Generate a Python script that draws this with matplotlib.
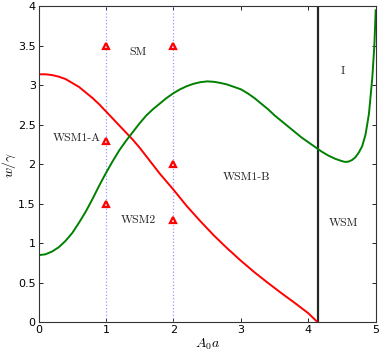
import numpy as np
import matplotlib
matplotlib.use('Agg')
import matplotlib.pyplot as plt

plt.rcParams['mathtext.fontset'] = 'cm'

# red boundary curve
red_x = [0.0, 0.1, 0.2, 0.3, 0.4, 0.5, 0.6, 0.7, 0.8, 0.9, 1.0, 1.1, 1.2, 1.3, 1.4, 1.5, 1.6, 1.7, 1.8, 1.9,
         2.0, 2.2, 2.4, 2.6, 2.8, 3.0, 3.2, 3.4, 3.6, 3.8, 4.0, 4.14]
red_y = [3.14, 3.14, 3.13, 3.11, 3.08, 3.03, 2.98, 2.91, 2.84, 2.76, 2.67, 2.58, 2.49, 2.40, 2.31, 2.21, 2.10, 1.99, 1.88, 1.78,
         1.68, 1.47, 1.28, 1.10, 0.935, 0.78, 0.635, 0.50, 0.37, 0.245, 0.115, 0.0]

# green boundary curve
green_x = [0.0, 0.1, 0.2, 0.3, 0.4, 0.5, 0.6, 0.7, 0.8, 0.9, 1.0, 1.1, 1.2, 1.3, 1.4, 1.5, 1.6, 1.7, 1.8, 1.9,
           2.0, 2.1, 2.2, 2.3, 2.4, 2.5, 2.6, 2.7, 2.8, 2.9, 3.0, 3.1, 3.2, 3.3, 3.4, 3.5, 3.6, 3.7, 3.8, 3.9,
           4.0, 4.1, 4.2, 4.3, 4.4, 4.5, 4.55, 4.6, 4.65, 4.7, 4.75, 4.8, 4.85, 4.9, 4.95, 4.98, 5.0]
green_y = [0.85, 0.86, 0.895, 0.95, 1.03, 1.13, 1.26, 1.40, 1.56, 1.73, 1.89, 2.04, 2.18, 2.30, 2.41, 2.52, 2.62, 2.70, 2.77, 2.84,
           2.90, 2.95, 2.99, 3.02, 3.04, 3.05, 3.045, 3.03, 3.01, 2.98, 2.95, 2.90, 2.84, 2.77, 2.70, 2.62, 2.55, 2.48, 2.41, 2.34,
           2.28, 2.22, 2.16, 2.11, 2.07, 2.04, 2.03, 2.035, 2.055, 2.09, 2.15, 2.23, 2.38, 2.64, 3.10, 3.50, 3.95]

# sample points (triangles)
pts_x = [1, 2, 1, 2, 1, 2]
pts_y = [3.5, 3.5, 2.3, 2.0, 1.5, 1.3]

x_crit = 4.14
dotted_x = [1, 2]

# region labels
labels = ['SM', 'WSM1-A', 'WSM1-B', 'WSM2', 'WSM', 'I']
label_x = [1.48, 0.57, 3.09, 1.48, 4.52, 4.51]
label_y = [3.42, 2.33, 1.84, 1.29, 1.26, 3.18]

fig = plt.figure(figsize=(3.82, 3.53), dpi=100)
ax = fig.add_axes([0.1008, 0.087, 0.8827, 0.895])

for xv in dotted_x:
    ax.axvline(xv, color='#9999ff', linestyle=':', linewidth=0.9)
ax.axvline(x_crit, color='#262626', linewidth=1.6)

ax.plot(red_x, red_y, color='red', linewidth=1.4)
ax.plot(green_x, green_y, color='green', linewidth=1.4)
ax.plot(pts_x, pts_y, linestyle='none', marker='^', markersize=5,
        markerfacecolor='none', markeredgecolor='red', markeredgewidth=1.6)

for t, lx, ly in zip(labels, label_x, label_y):
    ax.text(lx, ly, t, ha='center', va='center', fontsize=8.5, family='cmr10', color='#222222')

ax.set_xlim(0, 5)
ax.set_ylim(0, 4)
ax.set_xticks([0, 1, 2, 3, 4, 5])
ax.set_yticks([0, 0.5, 1, 1.5, 2, 2.5, 3, 3.5, 4])
ax.set_yticklabels(['0', '0.5', '1', '1.5', '2', '2.5', '3', '3.5', '4'])
ax.tick_params(direction='in', top=True, right=True, labelsize=8, length=3, width=0.6, pad=2)
for s in ax.spines.values():
    s.set_color('#333333')
    s.set_linewidth(0.8)
ax.set_xlabel(r'$A_0a$', fontsize=10, labelpad=1)
ax.set_ylabel(r'$w/\gamma$', fontsize=10, labelpad=0)

fig.savefig('out.png', dpi=100)
